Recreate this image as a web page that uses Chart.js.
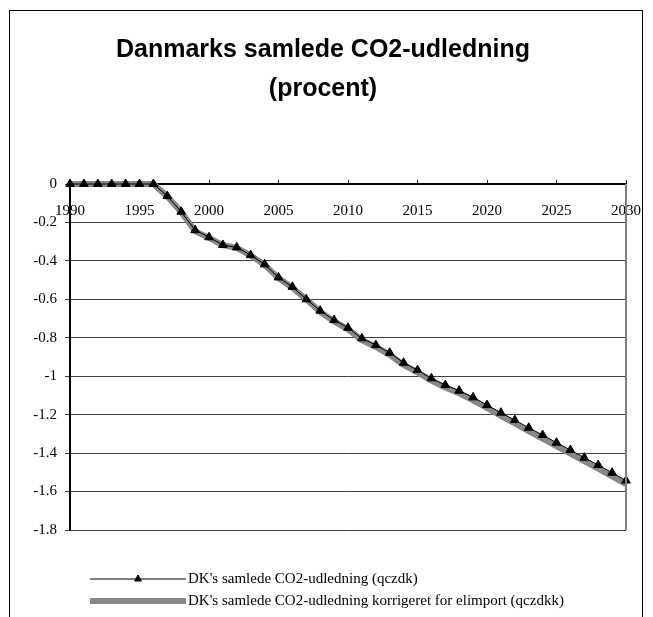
<!DOCTYPE html>
<html>
<head>
<meta charset="utf-8">
<script src="https://cdn.jsdelivr.net/npm/chart.js@4/dist/chart.umd.min.js"></script>
<style>
  html, body { margin: 0; padding: 0; background: #fff; }
  #wrap { width: 653px; height: 617px; }
</style>
</head>
<body>
<div id="wrap"><canvas id="c" width="653" height="617"></canvas></div>
<script>
// Years on the horizontal axis
const years = [
  1990, 1991, 1992, 1993, 1994, 1995, 1996, 1997, 1998, 1999,
  2000, 2001, 2002, 2003, 2004, 2005, 2006, 2007, 2008, 2009,
  2010, 2011, 2012, 2013, 2014, 2015, 2016, 2017, 2018, 2019,
  2020, 2021, 2022, 2023, 2024, 2025, 2026, 2027, 2028, 2029, 2030
];

// DK's samlede CO2-udledning (qczdk)
const qczdk = [
  0, 0, 0, 0, 0, 0, 0, -0.063, -0.144, -0.24,
  -0.277, -0.317, -0.33, -0.37, -0.418, -0.486, -0.535, -0.6, -0.659, -0.708,
  -0.748, -0.803, -0.838, -0.878, -0.93, -0.968, -1.011, -1.046, -1.075, -1.11,
  -1.15, -1.19, -1.228, -1.268, -1.306, -1.346, -1.384, -1.424, -1.462, -1.502, -1.543
];

// DK's samlede CO2-udledning korrigeret for elimport (qczdkk)
const qczdkk = [
  0, 0, 0, 0, 0, 0, 0, -0.065, -0.145, -0.245,
  -0.28, -0.318, -0.332, -0.372, -0.42, -0.49, -0.54, -0.6, -0.665, -0.715,
  -0.756, -0.812, -0.848, -0.889, -0.941, -0.98, -1.023, -1.059, -1.089, -1.125,
  -1.165, -1.206, -1.245, -1.285, -1.324, -1.364, -1.402, -1.442, -1.481, -1.521, -1.561
];

const seriesLabels = [
  "DK's samlede CO2-udledning (qczdk)",
  "DK's samlede CO2-udledning korrigeret for elimport (qczdkk)"
];

const titleLines = ['Danmarks samlede CO2-udledning', '(procent)'];

const yTickStep = 0.2;
const xTickStep = 5;

const toPoints = (vals) => years.map((yr, i) => ({ x: yr, y: vals[i] }));

// Outer frame of the chart object
const framePlugin = {
  id: 'frame',
  beforeDraw(chart) {
    const ctx = chart.ctx;
    ctx.save();
    ctx.fillStyle = '#fff';
    ctx.fillRect(0, 0, chart.width, chart.height);
    ctx.strokeStyle = '#000';
    ctx.lineWidth = 1;
    ctx.strokeRect(9.5, 10.5, 633, 640);
    ctx.restore();
  },
  afterDatasetsDraw(chart) {
    // right edge of the plot area
    const a = chart.chartArea;
    const ctx = chart.ctx;
    ctx.save();
    ctx.strokeStyle = '#808080';
    ctx.lineWidth = 2;
    ctx.beginPath();
    ctx.moveTo(a.right, a.top);
    ctx.lineTo(a.right, a.bottom);
    ctx.stroke();
    ctx.restore();
  }
};

// Legend drawn as stacked rows under the plot
const rowLegendPlugin = {
  id: 'rowLegend',
  afterDraw(chart) {
    const ctx = chart.ctx;
    const rows = [579, 601];
    const x0 = 90, x1 = 186, tx = 188;
    ctx.save();
    chart.data.datasets.forEach((ds, i) => {
      const y = rows[i];
      ctx.strokeStyle = ds.borderColor;
      ctx.lineWidth = ds.borderWidth;
      ctx.lineCap = 'butt';
      ctx.beginPath();
      ctx.moveTo(x0, y);
      ctx.lineTo(x1, y);
      ctx.stroke();
      if (ds.pointRadius > 0) {
        ctx.fillStyle = ds.pointBackgroundColor;
        ctx.strokeStyle = ds.pointBorderColor;
        ctx.lineWidth = ds.pointBorderWidth;
        Chart.helpers.drawPoint(ctx, {
          pointStyle: ds.pointStyle, radius: ds.pointRadius - 1, rotation: 0, borderWidth: ds.pointBorderWidth
        }, (x0 + x1) / 2, y);
      }
      ctx.fillStyle = '#000';
      ctx.font = '15px "Liberation Serif", "Times New Roman", serif';
      ctx.textBaseline = 'middle';
      ctx.textAlign = 'left';
      ctx.fillText(ds.label, tx, y);
    });
    ctx.restore();
  }
};

new Chart(document.getElementById('c'), {
  type: 'line',
  data: {
    datasets: [
      {
        label: seriesLabels[0],
        data: toPoints(qczdk),
        borderColor: '#000',
        borderWidth: 1,
        pointStyle: 'triangle',
        pointRadius: 5,
        pointBackgroundColor: '#000',
        pointBorderColor: '#000',
        pointBorderWidth: 1,
        tension: 0,
        clip: false
      },
      {
        label: seriesLabels[1],
        data: toPoints(qczdkk),
        borderColor: '#878787',
        borderWidth: 6,
        pointRadius: 0,
        tension: 0,
        clip: false
      }
    ]
  },
  options: {
    responsive: false,
    animation: false,
    layout: { padding: { left: 20, right: 27, top: 10, bottom: 87 } },
    plugins: {
      legend: { display: false },
      tooltip: { enabled: false },
      title: {
        display: true,
        text: titleLines,
        color: '#000',
        font: { family: '"Liberation Sans", Arial, sans-serif', size: 25, weight: 'bold', lineHeight: 1.56 },
        padding: { top: 21, bottom: 75 }
      }
    },
    scales: {
      x: {
        type: 'linear',
        min: 1990,
        max: 2030,
        position: { y: 0 },
        ticks: {
          stepSize: xTickStep,
          autoSkip: false,
          maxRotation: 0,
          padding: 23,
          color: '#000',
          font: { family: '"Liberation Serif", "Times New Roman", serif', size: 15 },
          callback: (v) => String(v)
        },
        grid: { drawOnChartArea: false, drawTicks: true, tickLength: -5, color: '#000', lineWidth: 1 },
        border: { color: '#000', width: 2 },
        // the end labels may hang past the plot edges
        afterFit: (s) => { s.paddingLeft = 0; s.paddingRight = 0; }
      },
      y: {
        min: -1.8,
        max: 0,
        ticks: {
          stepSize: yTickStep,
          padding: 8,
          color: '#000',
          font: { family: '"Liberation Serif", "Times New Roman", serif', size: 15 },
          callback: (v) => String(Math.round(v * 10) / 10)
        },
        grid: { color: '#404040', lineWidth: 1, tickLength: 5 },
        border: { color: '#000', width: 2 },
        afterFit: (s) => { s.width = 50; }
      }
    }
  },
  plugins: [framePlugin, rowLegendPlugin]
});
</script>
</body>
</html>
